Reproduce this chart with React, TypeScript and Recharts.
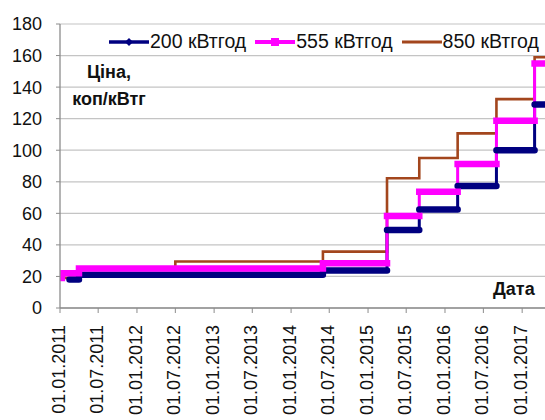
import { CartesianGrid, Legend, Line, LineChart, XAxis, YAxis } from 'recharts'

const FONT = '"Liberation Sans", Arial, sans-serif'

// tariff change dates and prices, kop/kWh
const blueDates = ['15.02.2011', '01.04.2011', '01.06.2014', '01.04.2015', '01.09.2015', '01.03.2016', '01.09.2016', '01.03.2017']
const blueValues = [18, 21, 23.8, 49.5, 62.5, 77.3, 100, 129]

const pinkDates = ['01.01.2011', '10.01.2011', '01.04.2011', '01.06.2014', '01.04.2015', '01.09.2015', '01.03.2016', '01.09.2016', '01.03.2017']
const pinkValues = [19, 22, 25, 28.3, 58.3, 73.7, 91.2, 118.7, 155]

const brownDates = ['01.01.2011', '01.04.2011', '01.07.2012', '01.06.2014', '01.04.2015', '01.09.2015', '01.03.2016', '01.09.2016', '01.03.2017']
const brownValues = [19, 25, 29.5, 35.7, 82.2, 95.1, 110.7, 132.4, 158.9]

const seriesNames = ['200 кВтгод', '555 кВтгод', '850 кВтгод']

const tickLabels = [
  '01.01.2011', '01.07.2011', '01.01.2012', '01.07.2012', '01.01.2013', '01.07.2013', '01.01.2014',
  '01.07.2014', '01.01.2015', '01.07.2015', '01.01.2016', '01.07.2016', '01.01.2017',
]
const yTicks = [0, 20, 40, 60, 80, 100, 120, 140, 160, 180]
const END_DATE = '01.06.2017'

const dayOf = (s: string) => {
  const [d, m, y] = s.split('.').map(Number)
  return Math.round((Date.UTC(y, m - 1, d) - Date.UTC(2011, 0, 1)) / 86400000)
}
const END_DAY = dayOf(END_DATE)
const tickDays = tickLabels.map(dayOf)
const labelOf = (t: number) => tickLabels[tickDays.indexOf(t)] ?? ''

const steps = (dates: string[], values: number[]) => [
  ...dates.map((d, i) => ({ t: dayOf(d), v: values[i] })),
  { t: END_DAY, v: values[values.length - 1] },
]
// horizontal runs only (the thick marker bands in the original)
const runs = (dates: string[], values: number[]) =>
  dates.flatMap((d, i) => {
    const t1 = i + 1 < dates.length ? dayOf(dates[i + 1]) : END_DAY
    return [
      { t: dayOf(d), v: values[i] as number | null },
      { t: t1, v: values[i] as number | null },
      { t: t1, v: null },
    ]
  })

const BLUE = '#000080'
const PINK = '#ff00ff'
const BROWN = '#a3461d'
const AXIS = '#8c8c8c'

function DateTick({ x, y, payload }: any) {
  return (
    <text
      transform={`translate(${x + 5},${y + 10}) rotate(-90)`}
      textAnchor="end"
      fontSize={18}
      fontFamily={FONT}
      fill="#111"
    >
      {labelOf(payload.value)}
    </text>
  )
}

function LegendIcon({ name }: { name: string }) {
  if (name === seriesNames[0])
    return (
      <svg width={40} height={12}>
        <line x1={0} y1={6} x2={40} y2={6} stroke={BLUE} strokeWidth={3.5} />
        <path d="M20 2 L24 6 L20 10 L16 6 Z" fill={BLUE} />
      </svg>
    )
  if (name === seriesNames[1])
    return (
      <svg width={40} height={12}>
        <line x1={0} y1={6} x2={40} y2={6} stroke={PINK} strokeWidth={4} />
        <rect x={16} y={2} width={8} height={8} fill={PINK} />
      </svg>
    )
  return (
    <svg width={40} height={12}>
      <line x1={0} y1={6} x2={40} y2={6} stroke={BROWN} strokeWidth={3} />
    </svg>
  )
}

function SeriesLegend({ payload }: any) {
  const items = (payload ?? [])
    .filter((p: any) => seriesNames.includes(String(p.value)))
    .sort((a: any, b: any) => seriesNames.indexOf(String(a.value)) - seriesNames.indexOf(String(b.value)))
  return (
    <div style={{ display: 'flex', alignItems: 'center', fontFamily: FONT, fontSize: 19.5, color: '#111', whiteSpace: 'nowrap' }}>
      {items.map((p: any) => (
        <div key={p.value} style={{ display: 'flex', alignItems: 'center', marginRight: 9 }}>
          <LegendIcon name={String(p.value)} />
          <span style={{ marginLeft: 1 }}>{p.value}</span>
        </div>
      ))}
    </div>
  )
}

const note: React.CSSProperties = { position: 'absolute', fontFamily: FONT, fontSize: 18, fontWeight: 700, lineHeight: '18px', color: '#111' }

export default function App() {
  return (
    <div style={{ position: 'absolute', left: 0, top: 0, width: 545, height: 420, overflow: 'hidden', background: '#fff' }}>
      <LineChart width={560} height={430} margin={{ top: 24, right: 6, bottom: 0, left: 0 }}>
        <CartesianGrid vertical={false} stroke="#c4c4c4" strokeWidth={1.2} />
        <XAxis
          type="number"
          dataKey="t"
          domain={[0, END_DAY]}
          ticks={tickDays}
          interval={0}
          height={122}
          tickSize={5}
          tickLine={{ stroke: AXIS }}
          axisLine={{ stroke: AXIS, strokeWidth: 1.3 }}
          tick={<DateTick />}
          allowDataOverflow
        />
        <YAxis
          type="number"
          domain={[0, 180]}
          ticks={yTicks}
          interval={0}
          width={60}
          tickSize={4}
          tickMargin={14}
          tickLine={{ stroke: AXIS }}
          axisLine={{ stroke: AXIS, strokeWidth: 1.3 }}
          tick={{ fontSize: 18, fontFamily: FONT, fill: '#111' }}
        />
        <Legend
          layout="horizontal"
          verticalAlign="middle"
          align="center"
          wrapperStyle={{ top: 30, left: 109, width: 'auto' }}
          content={<SeriesLegend />}
        />
        <Line
          name={seriesNames[2]}
          data={steps(brownDates, brownValues)}
          dataKey="v"
          type="stepAfter"
          stroke={BROWN}
          strokeWidth={2.6}
          dot={false}
          activeDot={false}
          isAnimationActive={false}
        />
        <Line
          name={seriesNames[0]}
          data={steps(blueDates, blueValues)}
          dataKey="v"
          type="stepAfter"
          stroke={BLUE}
          strokeWidth={3}
          dot={false}
          activeDot={false}
          isAnimationActive={false}
        />
        <Line
          name={seriesNames[1]}
          data={steps(pinkDates, pinkValues)}
          dataKey="v"
          type="stepAfter"
          stroke={PINK}
          strokeWidth={3}
          dot={false}
          activeDot={false}
          isAnimationActive={false}
        />
        <Line
          name="200 runs"
          data={runs(blueDates, blueValues)}
          dataKey="v"
          type="linear"
          stroke={BLUE}
          strokeWidth={6.5}
          strokeLinecap="round"
          dot={false}
          activeDot={false}
          legendType="none"
          isAnimationActive={false}
        />
        <Line
          name="555 runs"
          data={runs(pinkDates, pinkValues)}
          dataKey="v"
          type="linear"
          stroke={PINK}
          strokeWidth={6.5}
          strokeLinecap="square"
          dot={false}
          activeDot={false}
          legendType="none"
          isAnimationActive={false}
        />
      </LineChart>
      <div style={{ ...note, left: 49, top: 63, width: 120, textAlign: 'center' }}>Ціна,</div>
      <div style={{ ...note, left: 49, top: 90, width: 120, textAlign: 'center' }}>коп/кВтг</div>
      <div style={{ ...note, left: 493, top: 280 }}>Дата</div>
    </div>
  )
}
